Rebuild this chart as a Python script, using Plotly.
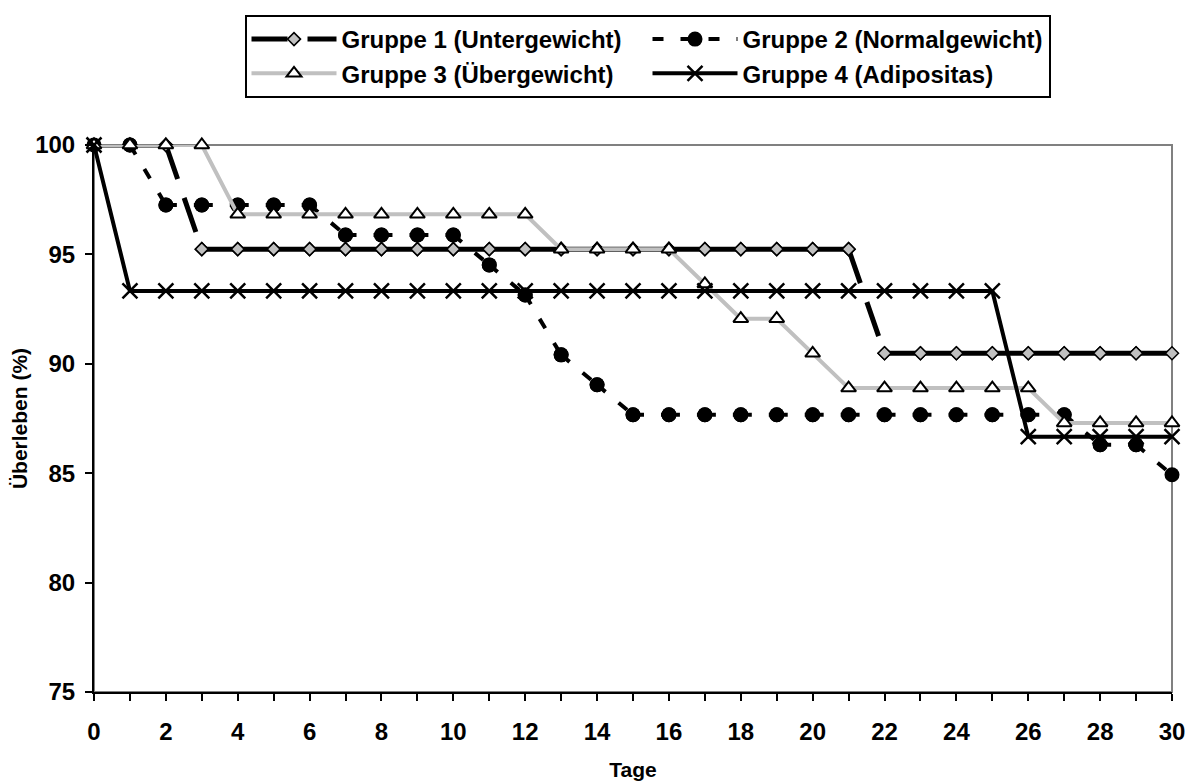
import plotly.graph_objects as go

tage = list(range(31))
gruppe1 = [100, 100, 100, 95.24, 95.24, 95.24, 95.24, 95.24, 95.24, 95.24, 95.24,
           95.24, 95.24, 95.24, 95.24, 95.24, 95.24, 95.24, 95.24, 95.24, 95.24, 95.24,
           90.48, 90.48, 90.48, 90.48, 90.48, 90.48, 90.48, 90.48, 90.48]
gruppe2 = [100, 100, 97.26, 97.26, 97.26, 97.26, 97.26, 95.89, 95.89, 95.89, 95.89,
           94.52, 93.15, 90.41, 89.04, 87.67, 87.67, 87.67, 87.67, 87.67, 87.67, 87.67,
           87.67, 87.67, 87.67, 87.67, 87.67, 87.67, 86.30, 86.30, 84.93]
gruppe3 = [100, 100, 100, 100, 96.83, 96.83, 96.83, 96.83, 96.83, 96.83, 96.83,
           96.83, 96.83, 95.24, 95.24, 95.24, 95.24, 93.65, 92.06, 92.06, 90.48, 88.89,
           88.89, 88.89, 88.89, 88.89, 88.89, 87.30, 87.30, 87.30, 87.30]
gruppe4 = [100, 93.33, 93.33, 93.33, 93.33, 93.33, 93.33, 93.33, 93.33, 93.33, 93.33,
           93.33, 93.33, 93.33, 93.33, 93.33, 93.33, 93.33, 93.33, 93.33, 93.33, 93.33,
           93.33, 93.33, 93.33, 93.33, 86.67, 86.67, 86.67, 86.67, 86.67]
namen = ["Gruppe 1 (Untergewicht)", "Gruppe 2 (Normalgewicht)",
         "Gruppe 3 (Übergewicht)", "Gruppe 4 (Adipositas)"]
x_ticks = list(range(0, 31, 2))
y_ticks = [75, 80, 85, 90, 95, 100]


def segmente(x, y):
    """Split a polyline into separate two-point segments so dashes restart per segment."""
    xs, ys = [], []
    for i in range(len(x) - 1):
        xs += [x[i], x[i + 1], None]
        ys += [y[i], y[i + 1], None]
    return xs, ys


FONT = "Liberation Sans, Arial, sans-serif"
fig = go.Figure()

x1, y1 = segmente(tage, gruppe1)
fig.add_trace(go.Scatter(
    x=x1, y=y1, name=namen[0], mode="lines+markers", cliponaxis=False,
    line=dict(color="black", width=5, dash="36px,20px"),
    marker=dict(symbol="diamond", size=10, color="#c0c0c0",
                line=dict(color="black", width=1.5)),
))
x2, y2 = segmente(tage, gruppe2)
fig.add_trace(go.Scatter(
    x=x2, y=y2, name=namen[1], mode="lines+markers", cliponaxis=False,
    line=dict(color="black", width=4, dash="11px,17px"),
    marker=dict(symbol="circle", size=15, color="black",
                line=dict(color="black", width=0)),
))
fig.add_trace(go.Scatter(
    x=tage, y=gruppe3, name=namen[2], mode="lines+markers", cliponaxis=False,
    line=dict(color="#c0c0c0", width=4),
    marker=dict(symbol="triangle-up", size=13, color="white",
                line=dict(color="black", width=2)),
))
fig.add_trace(go.Scatter(
    x=tage, y=gruppe4, name=namen[3], mode="lines+markers", cliponaxis=False,
    line=dict(color="black", width=4),
    marker=dict(symbol="x-thin", size=15, color="black",
                line=dict(color="black", width=2.5)),
))

# gray plot-area frame (top/right)
fig.add_shape(type="rect", xref="x domain", yref="y domain", x0=0, x1=1, y0=0, y1=1,
              line=dict(color="#808080", width=2), layer="below")

fig.update_layout(
    width=1187, height=781,
    margin=dict(l=94, r=15, t=145, b=89, autoexpand=False),
    paper_bgcolor="white", plot_bgcolor="white",
    font=dict(family=FONT, size=22, color="black", weight="bold"),
    showlegend=True,
    legend=dict(
        orientation="h", x=(245 + 805 / 2) / 1187, xanchor="center", y=1 - 15 / 781, yanchor="top",
        yref="container", xref="container",
        entrywidth=301, entrywidthmode="pixels",
        bordercolor="black", borderwidth=2, bgcolor="white",
        font=dict(family=FONT, size=24, color="black", weight="bold"),
        traceorder="normal", itemwidth=85,
    ),
    xaxis=dict(
        range=[0, 30], tickvals=x_ticks, ticktext=[str(v) for v in x_ticks],
        showgrid=False, zeroline=False,
        showline=True, linecolor="black", linewidth=2,
        ticks="outside", ticklen=7, tickwidth=2, tickcolor="black",
        ticklabelstandoff=10,
        minor=dict(dtick=1, ticks="outside", ticklen=7, tickwidth=2, tickcolor="black", showgrid=False),
        tickfont=dict(family=FONT, size=24, weight="bold"),
        title=dict(text="Tage", font=dict(family=FONT, size=21, weight="bold"), standoff=20),
    ),
    yaxis=dict(
        range=[75, 100], tickvals=y_ticks, ticktext=[str(v) for v in y_ticks],
        showgrid=False, zeroline=False,
        showline=True, linecolor="black", linewidth=2,
        ticks="outside", ticklen=7, tickwidth=2, tickcolor="black",
        ticklabelstandoff=5,
        tickfont=dict(family=FONT, size=24, weight="bold"),
        title=dict(text="Überleben (%)", font=dict(family=FONT, size=21, weight="bold"), standoff=2),
    ),
)

fig.write_html("out.html", config={"displayModeBar": False},
               post_script="document.body.style.margin='0px';")
